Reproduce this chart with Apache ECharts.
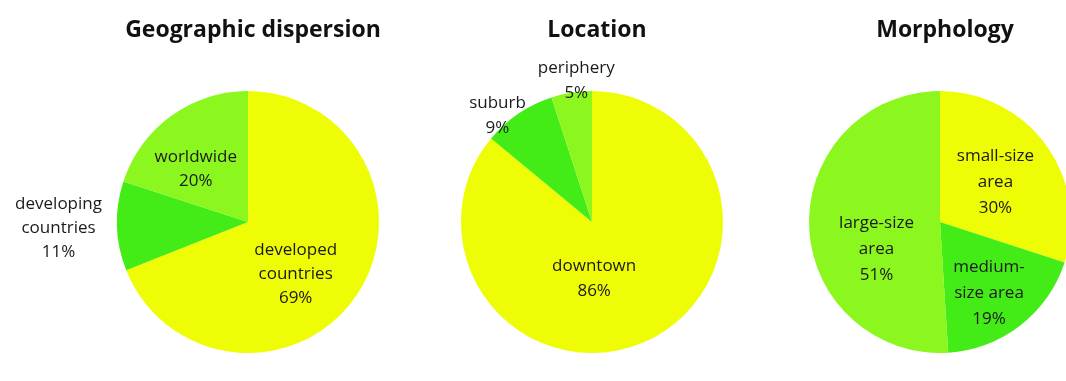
<!DOCTYPE html>
<html>
<head>
<meta charset="utf-8">
<script src="https://cdn.jsdelivr.net/npm/echarts@6/dist/echarts.min.js"></script>
<style>
html,body{margin:0;padding:0;background:#fff;}
#chart{width:1066px;height:381px;}
</style>
</head>
<body>
<div id="chart"></div>
<script>
// ---- data ----
const titles = ['Geographic dispersion', 'Location', 'Morphology'];

const geoNames = ['developed\ncountries', 'developing\ncountries', 'worldwide'];
const geoValues = [69, 11, 20];

const locNames = ['downtown', 'suburb', 'periphery'];
const locValues = [86, 9, 5];

const morphNames = ['small-size\narea', 'medium-\nsize area', 'large-size\narea'];
const morphValues = [30, 19, 51];

// ---- styles ----
const YELLOW = '#eefc05', GREEN = '#44ec17', LIGHT = '#8cf71f';
const geoColors = [YELLOW, GREEN, LIGHT];
const locColors = [YELLOW, GREEN, LIGHT];
const morphColors = [YELLOW, GREEN, LIGHT];

const centers = [[248, 222], [592, 222], [940, 222]];
const radius = 131;
// label nudges relative to the library's inner label position
const geoShift = [[-9, 14], [-121, 4], [-12, 3]];
const locShift = [[-27, -5], [-56, -50], [-5, -74]];
const morphShift = [[0, 0], [7, 17], [5, 25]];

function makeSeries(names, values, colors, center, shift, lh) {
  return {
    type: 'pie',
    center: center,
    radius: radius,
    startAngle: 90,
    clockwise: true,
    silent: true,
    animation: false,
    avoidLabelOverlap: false,
    itemStyle: { borderWidth: 0 },
    label: {
      show: true,
      position: 'inner',
      formatter: '{b}\n{c}%',
      color: '#1a1a1a',
      fontFamily: 'Open Sans',
      fontSize: 17,
      lineHeight: lh,
      align: 'center'
    },
    labelLine: { show: false },
    labelLayout: function (p) {
      const s = shift[p.dataIndex];
      return { dx: s[0], dy: s[1] };
    },
    data: names.map((n, i) => ({ name: n, value: values[i], itemStyle: { color: colors[i] } }))
  };
}

const chart = echarts.init(document.getElementById('chart'), null, { renderer: 'canvas' });
chart.setOption({
  backgroundColor: '#ffffff',
  animation: false,
  title: titles.map((t, i) => ({
    text: t,
    left: centers[i][0],
    top: 14,
    textAlign: 'center',
    textStyle: { fontFamily: 'Open Sans', fontWeight: 'bold', fontSize: 23, color: '#111' }
  })),
  series: [
    makeSeries(geoNames, geoValues, geoColors, centers[0], geoShift, 24),
    makeSeries(locNames, locValues, locColors, centers[1], locShift, 25),
    makeSeries(morphNames, morphValues, morphColors, centers[2], morphShift, 26)
  ]
});
</script>
</body>
</html>
